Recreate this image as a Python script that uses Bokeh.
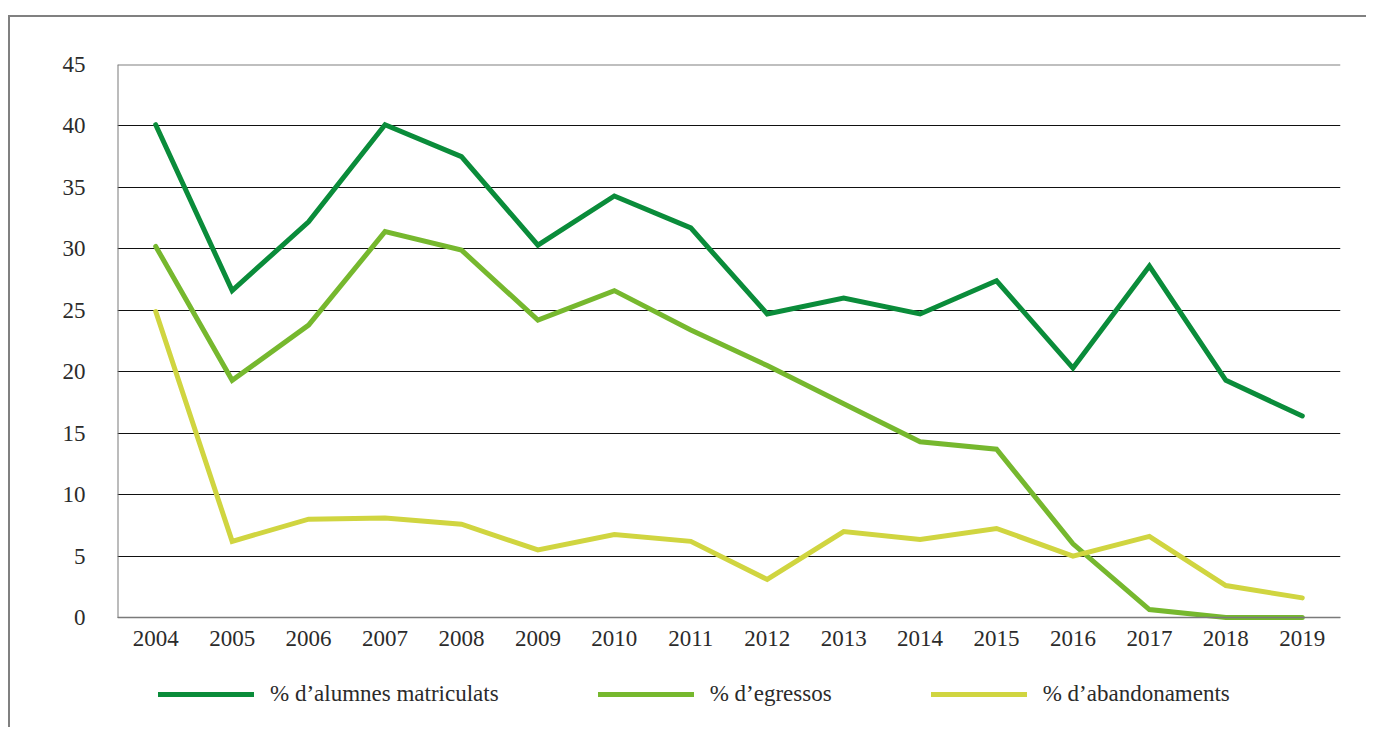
from bokeh.plotting import figure
from bokeh.models import FixedTicker, Span, Legend, LegendItem, Range1d
from bokeh.embed import file_html
from bokeh.resources import INLINE

years = ["2004", "2005", "2006", "2007", "2008", "2009", "2010", "2011",
         "2012", "2013", "2014", "2015", "2016", "2017", "2018", "2019"]
matriculats = [40.1, 26.6, 32.2, 40.1, 37.5, 30.3, 34.3, 31.7,
               24.7, 26.0, 24.7, 27.4, 20.3, 28.6, 19.3, 16.4]
egressos = [30.2, 19.3, 23.8, 31.4, 29.9, 24.2, 26.6, 23.4,
            20.5, 17.4, 14.3, 13.7, 6.0, 0.65, 0.0, 0.0]
abandonaments = [24.9, 6.2, 8.0, 8.1, 7.6, 5.5, 6.75, 6.2,
                 3.1, 7.0, 6.35, 7.25, 5.0, 6.6, 2.6, 1.6]
y_ticks = [0, 5, 10, 15, 20, 25, 30, 35, 40, 45]
labels = ["% d\u2019alumnes matriculats", "% d\u2019egressos", "% d\u2019abandonaments"]
colors = ["#0a8c3a", "#76b82e", "#d0d540"]

FONT = "Liberation Serif"
TXT = "#2b2b2b"
GRAY = "#7a7a7a"

xs = list(range(len(years)))
y_min, y_max = y_ticks[0], y_ticks[-1]

p = figure(width=1358, height=712, x_range=Range1d(-0.5, len(years) - 0.5),
           y_range=Range1d(-9.11, y_max), output_backend="svg", toolbar_location=None,
           min_border_left=107, min_border_right=28, min_border_top=47, min_border_bottom=0)
p.styles = {"border-left": "2px solid #808080", "border-top": "2px solid #808080",
            "margin-left": "8px", "margin-top": "15px"}
p.outline_line_color = None
p.background_fill_color = "white"
p.border_fill_color = "white"

p.xgrid.grid_line_color = None
p.ygrid.grid_line_color = "#111111"
p.ygrid.grid_line_width = 1
p.yaxis.ticker = FixedTicker(ticks=y_ticks)
p.xaxis.ticker = FixedTicker(ticks=xs)
p.xaxis.major_label_overrides = {i: y for i, y in zip(xs, years)}
p.xaxis.fixed_location = 0

for ax in (p.xaxis[0], p.yaxis[0]):
    ax.axis_line_color = GRAY
    ax.axis_line_width = 1.5
    ax.major_tick_line_color = None
    ax.minor_tick_line_color = None
    ax.major_label_text_font = FONT
    ax.major_label_text_font_size = "23px"
    ax.major_label_text_color = TXT
p.yaxis.axis_line_color = None
p.yaxis.major_label_standoff = 26
p.xaxis.major_label_standoff = 7

# left axis line only from 0 to 45 and top line at 45
p.segment(x0=[-0.5], y0=[y_min], x1=[-0.5], y1=[y_max], line_color=GRAY, line_width=2)
p.add_layout(Span(location=y_max, dimension="width", line_color="#808080", line_width=2))

series = [matriculats, egressos, abandonaments]
items = []
for vals, col, lab in zip(series, colors, labels):
    r = p.line(x=xs, y=vals, line_color=col, line_width=5,
               line_join="miter", line_cap="round")
    items.append(LegendItem(label=lab, renderers=[r]))

lg = Legend(items=items, location=(41, 22), orientation="horizontal",
            glyph_width=96, glyph_height=22, label_height=22,
            label_standoff=16, padding=0, margin=0, spacing=99,
            border_line_color=None, background_fill_alpha=0,
            label_text_font=FONT, label_text_font_size="23px",
            label_text_color=TXT, click_policy="none")
p.add_layout(lg, "center")

open("out.html", "w").write(file_html(p, INLINE))
